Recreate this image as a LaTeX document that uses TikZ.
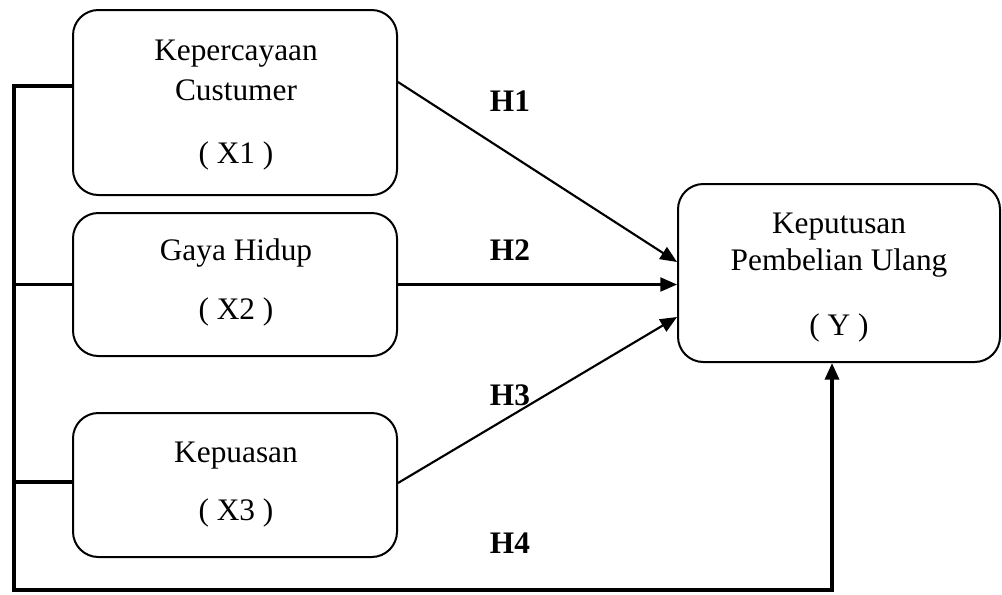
\documentclass[tikz,border=0pt]{standalone}
\usepackage{fontspec}
\setmainfont{Liberation Serif}
\usetikzlibrary{arrows.meta,calc}
\begin{document}
\begin{tikzpicture}[x=0.75pt,y=-0.75pt,
  box/.style={draw,line width=1.5pt,rounded corners=19pt,inner sep=0pt},
  txt/.style={anchor=base,inner sep=0pt,font=\fontsize{23.5}{28}\selectfont},
  hyp/.style={anchor=base,inner sep=0pt,font=\fontsize{23.5}{28}\selectfont\bfseries},
  arr/.style={line width=1.6pt,-{Triangle[length=12.5pt,width=10.5pt]}},
  brk/.style={line width=2.6pt}]
\useasboundingbox (0,0) rectangle (1002,594);
% boxes
\node[box,minimum width=243pt,minimum height=138.75pt] (x1) at (235,102.5) {};
\node[box,minimum width=243pt,minimum height=107.25pt] (x2) at (235,284.5) {};
\node[box,minimum width=243pt,minimum height=108pt] (x3) at (235,485) {};
\node[box,minimum width=241.5pt,minimum height=133.5pt] (y) at (839,273) {};
% texts
\node[txt] (t1a) at (236,60) {Kepercayaan};
\node[txt] (t1b) at (236,100) {Custumer};
\node[txt] (t1c) at (236,163) {( X1 )};
\node[txt] (t2a) at (236,260) {Gaya Hidup};
\node[txt] (t2b) at (236,319) {( X2 )};
\node[txt] (t3a) at (236,462) {Kepuasan};
\node[txt] (t3b) at (236,520) {( X3 )};
\node[txt] (tya) at (839,233) {Keputusan};
\node[txt] (tyb) at (839,270) {Pembelian Ulang};
\node[txt] (tyc) at (839,335) {( Y )};
% hypotheses
\node[hyp] (h1) at (510,111) {H1};
\node[hyp] (h2) at (510,260) {H2};
\node[hyp] (h3) at (510,405) {H3};
\node[hyp] (h4) at (510,553) {H4};
% arrows
\draw[arr] ($(x1.east)+(0,-20.5)$) -- ($(y.west)+(0,-11)$);
\draw[arr] (x2.east) -- (x2.east -| y.west);
\draw[arr] ($(x3.east)+(0,-2)$) -- ($(y.west)+(0,44)$);
% bracket
\coordinate (tl) at (14,86);
\coordinate (bl) at (14,590);
\coordinate (br) at (832,590);
\draw[brk,-{Triangle[length=12.5pt,width=10.5pt]}] ($(x1.west)+(0,-16.5)$) -- (tl) -- (bl) -- (br) -- (br |- y.south);
\draw[brk] (x2.west) -- (x2.west -| tl);
\draw[brk] ($(x3.west)+(0,-3)$) -- ($(x3.west -| tl)+(0,-3)$);
\end{tikzpicture}
\end{document}
